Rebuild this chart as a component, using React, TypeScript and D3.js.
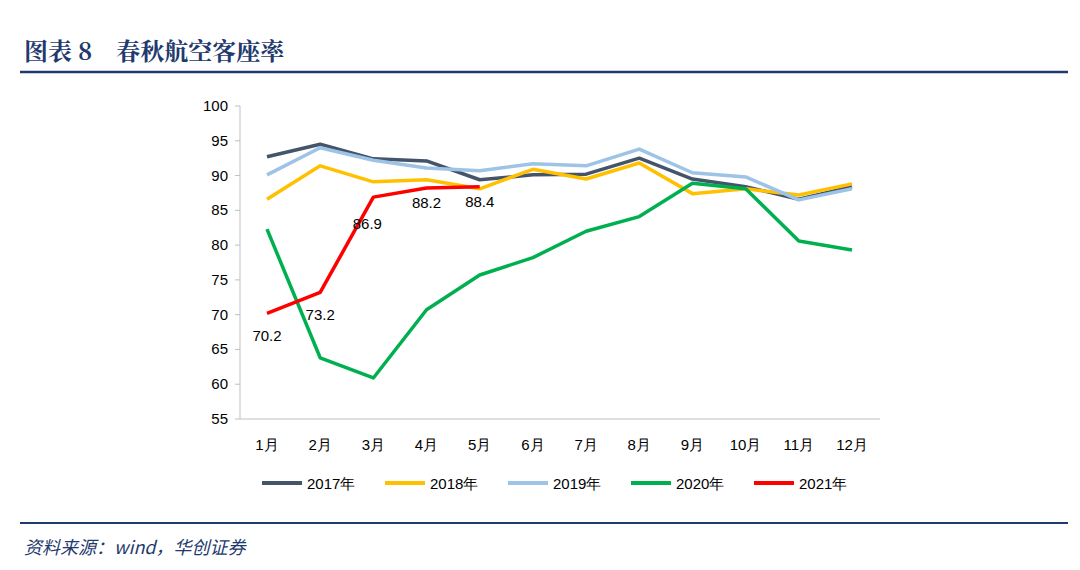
import React from "react";
import * as d3 from "d3";

const months = ["1月","2月","3月","4月","5月","6月","7月","8月","9月","10月","11月","12月"];
const yTicks = [55,60,65,70,75,80,85,90,95,100];
const s2017 = [92.7,94.5,92.4,92.1,89.4,90.1,90.2,92.5,89.5,88.4,86.6,88.4];
const s2018 = [86.6,91.4,89.1,89.4,88.1,90.9,89.5,91.8,87.4,88.1,87.2,88.8];
const s2019 = [90.1,94.0,92.2,91.1,90.7,91.7,91.4,93.8,90.4,89.8,86.5,88.1];
const s2020 = [82.3,63.8,60.9,70.7,75.7,78.2,82.0,84.1,88.9,88.1,80.6,79.3];
const s2021 = [70.2,73.2,86.9,88.2,88.4];
const seriesNames = ["2017年","2018年","2019年","2020年","2021年"];
const colors = ["#44546A","#FFC000","#9DC3E6","#00B050","#FF0000"];

export default function App() {
  const x = d3.scalePoint<string>().domain(months).range([267, 852]);
  const y = d3.scaleLinear().domain([55, 100]).range([419, 106]);
  const all = [s2017, s2018, s2019, s2020, s2021];
  const line = d3.line<number>().x((_, i) => x(months[i])!).y(d => y(d));
  const labelOffsets = [[0, 28], [0, 28], [-6, 32], [0, 20], [0, 20]];
  const font = "'Liberation Sans', Arial, sans-serif";
  return (
    <svg width={1080} height={570} style={{ position: "absolute", left: 0, top: 0, background: "#fff" }}>
      <text x={24} y={60} fontFamily="'Noto Serif CJK SC', 'Noto Sans CJK SC', serif" fontWeight="bold" fontSize={24} fill="#1F3A6E">图表 8　春秋航空客座率</text>
      <line x1={20} x2={1068} y1={72} y2={72} stroke="#1F3A6E" strokeWidth={2.5} />
      <line x1={240} x2={240} y1={106} y2={419} stroke="#bfbfbf" />
      <line x1={240} x2={880} y1={419} y2={419} stroke="#bfbfbf" />
      {yTicks.map(t => (
        <g key={t}>
          <line x1={235} x2={240} y1={y(t)} y2={y(t)} stroke="#bfbfbf" />
          <text x={228} y={y(t) + 5} textAnchor="end" fontFamily={font} fontSize={15} fill="#000">{t}</text>
        </g>
      ))}
      {months.map(m => (
        <text key={m} x={x(m)} y={450} textAnchor="middle" fontFamily={font} fontSize={15}>{m}</text>
      ))}
      {all.map((s, i) => (
        <path key={i} d={line(s)!} fill="none" stroke={colors[i]} strokeWidth={3.5} strokeLinejoin="round" />
      ))}
      {s2021.map((v, i) => (
        <text key={i} x={x(months[i])! + labelOffsets[i][0]} y={y(v) + labelOffsets[i][1]} textAnchor="middle" fontFamily={font} fontSize={15}>{v.toFixed(1)}</text>
      ))}
      {seriesNames.map((n, i) => {
        const lx = 262 + i * 123;
        return (
          <g key={n}>
            <line x1={lx} x2={lx + 40} y1={483} y2={483} stroke={colors[i]} strokeWidth={4} />
            <text x={lx + 45} y={489} fontFamily={font} fontSize={15}>{n}</text>
          </g>
        );
      })}
      <line x1={20} x2={1068} y1={523} y2={523} stroke="#1F3A6E" strokeWidth={2} />
      <text x={24} y={554} fontFamily="'Noto Sans CJK SC', serif" fontStyle="italic" fontSize={18} fill="#1F3A6E">资料来源：wind，华创证券</text>
    </svg>
  );
}
